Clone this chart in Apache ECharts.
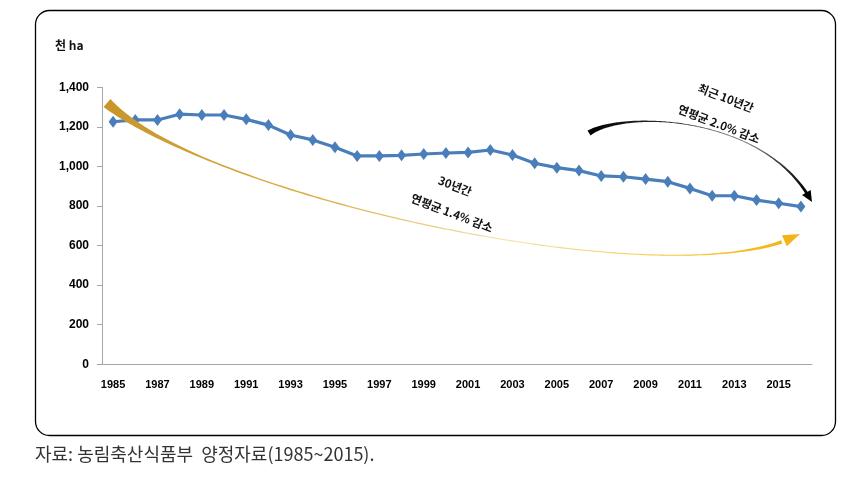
<!DOCTYPE html>
<html><head><meta charset="utf-8">
<script src="https://cdn.jsdelivr.net/npm/echarts@6/dist/echarts.min.js"></script>
<style>html,body{margin:0;padding:0;background:#fff}#c{width:862px;height:481px}</style>
</head><body><div id="c"></div>
<script>
const years = ['1985','1986','1987','1988','1989','1990','1991','1992','1993','1994','1995','1996','1997','1998','1999','2000','2001','2002','2003','2004','2005','2006','2007','2008','2009','2010','2011','2012','2013','2014','2015','2016'];
const area = [1226,1235,1235,1264,1260,1260,1238,1209,1159,1134,1097,1053,1053,1056,1063,1068,1071,1083,1058,1016,994,979,952,948,936,923,889,852,852,830,814,797];
const yTicks = [0,200,400,600,800,1000,1200,1400];

function cubic(p, t) {
  const u = 1 - t;
  return [u*u*u*p[0][0] + 3*u*u*t*p[1][0] + 3*u*t*t*p[2][0] + t*t*t*p[3][0],
          u*u*u*p[0][1] + 3*u*u*t*p[1][1] + 3*u*t*t*p[2][1] + t*t*t*p[3][1]];
}
function taperArrow(p, wf, headLen, headW, tEnd) {
  const N = 140, L = [], R = [];
  let last;
  for (let i = 0; i <= N; i++) {
    const t = i / N * tEnd;
    const a = cubic(p, t), b = cubic(p, Math.min(t + 0.002, 1));
    let dx = b[0]-a[0], dy = b[1]-a[1]; const d = Math.hypot(dx, dy) || 1; dx/=d; dy/=d;
    const w = wf(t) / 2;
    L.push([a[0] - dy*w, a[1] + dx*w]); R.push([a[0] + dy*w, a[1] - dx*w]);
    last = a;
  }
  const end = p[3];
  let ex = end[0]-last[0], ey = end[1]-last[1]; const ed = Math.hypot(ex, ey); ex/=ed; ey/=ed;
  const base = [end[0]-ex*headLen, end[1]-ey*headLen];
  const head = [[base[0]-ey*headW, base[1]+ex*headW], end, [base[0]+ey*headW, base[1]-ex*headW]];
  return {body: L.concat(R.reverse()), head: head};
}
const gold = taperArrow([[107,103],[215,200],[680,300],[800,234]],
  t => 1.1 + 8.5*Math.pow(Math.max(0, 1 - t/0.22), 2) + 0.9*Math.max(0, 1 - t/0.55) + 3.2*Math.pow(Math.max(0, (t-0.78)/0.2), 2), 17, 6, 0.955);
const black = taperArrow([[589,133],[625,110],[765,115],[812,202]],
  t => 0.9 + 4.8*Math.pow(Math.max(0, 1 - t/0.45), 2) + 2.4*Math.pow(Math.max(0, (t-0.6)/0.4), 2), 11, 5, 0.965);

const goldGrad = new echarts.graphic.LinearGradient(0,0,1,0,[
  {offset:0,color:'#C8952A'},{offset:0.3,color:'#D9AC45'},{offset:0.6,color:'#F3E2AA'},{offset:0.85,color:'#F5C83A'},{offset:1,color:'#F3B515'}]);
const blackGrad = new echarts.graphic.LinearGradient(0,0,1,0,[
  {offset:0,color:'#000'},{offset:0.4,color:'#333'},{offset:0.7,color:'#888'},{offset:1,color:'#000'}]);

const chart = echarts.init(document.getElementById('c'), null, {renderer:'canvas'});
const txt = {fontFamily:'"Noto Sans CJK KR"', fontWeight:'bold', fontSize:11.5, fill:'#111'};
chart.setOption({
  animation:false,
  grid:{left:102, right:50, top:87.3, bottom:116.7},
  xAxis:{type:'category', data:years, boundaryGap:true,
    axisLine:{lineStyle:{color:'#A6A6A6', width:1}},
    axisTick:{interval:0, length:5, lineStyle:{color:'#A6A6A6'}},
    axisLabel:{interval:1, margin:15, fontFamily:'"Liberation Sans"', fontWeight:'bold', fontSize:11, color:'#000'},
    splitLine:{show:false}},
  yAxis:{type:'value', min:yTicks[0], max:yTicks[yTicks.length-1], interval:200,
    axisLine:{show:true, lineStyle:{color:'#A6A6A6'}},
    axisTick:{show:true, length:5, lineStyle:{color:'#A6A6A6'}},
    axisLabel:{margin:13, fontFamily:'"Liberation Sans"', fontWeight:'bold', fontSize:12, color:'#000',
      formatter:v => v.toLocaleString('en-US')},
    splitLine:{show:false}},
  series:[{type:'line', data:area, symbol:'diamond', symbolSize:[9,12],
    lineStyle:{color:'#4A7EBB', width:3.2}, itemStyle:{color:'#4A7EBB'}, z:3}],
  graphic:[
    {type:'rect', shape:{x:35.5, y:10.5, width:800, height:425, r:14}, style:{fill:'none', stroke:'#000', lineWidth:1.3}, z:0},
    {type:'text', left:55, top:39, style:Object.assign({}, txt, {text:'천 ha', fontSize:12})},
    {type:'polygon', shape:{points:gold.body}, style:{fill:goldGrad}, z:10},
    {type:'polygon', shape:{points:gold.head}, style:{fill:'#F3B515'}, z:10},
    {type:'polygon', shape:{points:black.body}, style:{fill:blackGrad}, z:10},
    {type:'polygon', shape:{points:black.head}, style:{fill:'#000'}, z:10},
    {type:'text', x:455, y:186, rotation:-21*Math.PI/180, style:Object.assign({}, txt, {text:'30년간', align:'center', verticalAlign:'middle'}), z:11},
    {type:'text', x:452, y:213, rotation:-21*Math.PI/180, style:Object.assign({}, txt, {text:'연평균 1.4% 감소', align:'center', verticalAlign:'middle'}), z:11},
    {type:'text', x:726, y:98, rotation:-21*Math.PI/180, style:Object.assign({}, txt, {text:'최근 10년간', align:'center', verticalAlign:'middle'}), z:11},
    {type:'text', x:719, y:124, rotation:-21*Math.PI/180, style:Object.assign({}, txt, {text:'연평균 2.0% 감소', align:'center', verticalAlign:'middle'}), z:11},
    {type:'text', left:35, top:445, style:{text:'자료: 농림축산식품부  양정자료(1985~2015).', fontFamily:'"Noto Sans CJK KR"', fontSize:18, fill:'#333'}}
  ]
});
</script></body></html>
